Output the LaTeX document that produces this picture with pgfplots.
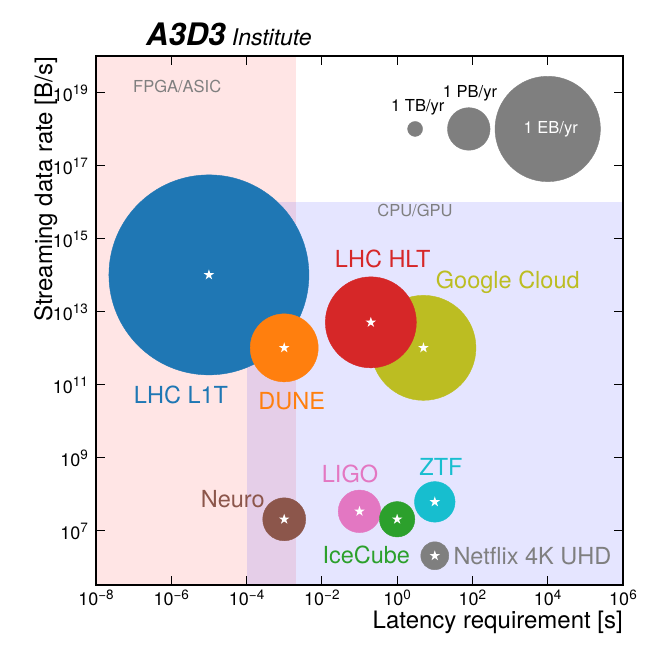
\documentclass[border=0pt]{standalone}
\usepackage{fontspec}
\setmainfont{TeX Gyre Heros}
\usepackage{pgfplots}
\usepackage{pgfplotstable}
\pgfplotsset{compat=1.18}

\definecolor{tabblue}{HTML}{1F77B4}
\definecolor{taborange}{HTML}{FF7F0E}
\definecolor{tabgreen}{HTML}{2CA02C}
\definecolor{tabred}{HTML}{D62728}
\definecolor{tabbrown}{HTML}{8C564B}
\definecolor{tabpink}{HTML}{E377C2}
\definecolor{tabgray}{HTML}{7F7F7F}
\definecolor{tabolive}{HTML}{BCBD22}
\definecolor{tabcyan}{HTML}{17BECF}

% filled five-pointed star
\pgfdeclareplotmark{fstar}{%
  \pgfpathmoveto{\pgfpointpolar{90}{\pgfplotmarksize}}%
  \pgfpathlineto{\pgfpointpolar{126}{0.382\pgfplotmarksize}}%
  \pgfpathlineto{\pgfpointpolar{162}{\pgfplotmarksize}}%
  \pgfpathlineto{\pgfpointpolar{198}{0.382\pgfplotmarksize}}%
  \pgfpathlineto{\pgfpointpolar{234}{\pgfplotmarksize}}%
  \pgfpathlineto{\pgfpointpolar{270}{0.382\pgfplotmarksize}}%
  \pgfpathlineto{\pgfpointpolar{306}{\pgfplotmarksize}}%
  \pgfpathlineto{\pgfpointpolar{342}{0.382\pgfplotmarksize}}%
  \pgfpathlineto{\pgfpointpolar{18}{\pgfplotmarksize}}%
  \pgfpathlineto{\pgfpointpolar{54}{0.382\pgfplotmarksize}}%
  \pgfpathclose
  \pgfusepathqfill
}

\newcommand{\tl}[1]{10\raisebox{6.5pt}{\fontsize{13.5}{13.5}\selectfont #1}}

% latency [s], rate [B/s], radius [pt]
\pgfplotstableread{
x     y      r     name
1e-5  1e14   100   l1t
1e-3  1e12   34    dune
5     1e12   52.5  google
0.2   5e12   45.5  hlt
1e-3  2e7    21.5  neuro
0.1   3.3e7  21.3  ligo
1     2e7    17.7  icecube
10    6e7    20.3  ztf
10    2e6    14    netflix
3     1e18   7.5   tb
80    1e18   21.3  pb
1e4   1e18   52.7  eb
}\bubbles

\pgfplotstableread{
x     y
1e-5  1e14
1e-3  1e12
5     1e12
0.2   5e12
1e-3  2e7
0.1   3.3e7
1     2e7
10    6e7
10    2e6
}\stars

\begin{document}
\begin{tikzpicture}
\path (0,0) rectangle (664pt,664pt);
\begin{axis}[
    at={(96pt,79pt)}, anchor=south west,
    scale only axis, width=527pt, height=529pt,
    xmode=log, ymode=log,
    xmin=1e-8, xmax=1e6, ymin=3.16e5, ymax=1e20,
    xtick={1e-8,1e-6,1e-4,1e-2,1,1e2,1e4,1e6},
    xticklabels={\tl{−8},\tl{−6},\tl{−4},\tl{−2},\tl{0},\tl{2},\tl{4},\tl{6}},
    ytick={1e7,1e9,1e11,1e13,1e15,1e17,1e19},
    yticklabels={\tl{7},\tl{9},\tl{11},\tl{13},\tl{15},\tl{17},\tl{19}},
    xminorticks=false, yminorticks=false,
    tick align=inside, tick pos=both,
    major tick length=9pt,
    tick style={line width=1pt, black},
    axis line style={line width=1.5pt},
    axis on top,
    xticklabel style={font=\fontsize{18}{18}\selectfont, anchor=base, inner sep=0pt, yshift=-20.7pt},
    yticklabel style={font=\fontsize{18}{18}\selectfont, anchor=east, inner sep=0pt, xshift=-8pt, yshift=-1pt},
]
% FPGA/ASIC and CPU/GPU regions
\addplot[draw=none, fill=red, fill opacity=0.1] coordinates {(1e-8,3.16e5) (2e-3,3.16e5) (2e-3,1e20) (1e-8,1e20)} -- cycle;
\addplot[draw=none, fill=blue, fill opacity=0.1] coordinates {(1e-4,3.16e5) (1e6,3.16e5) (1e6,1e16) (1e-4,1e16)} -- cycle;

\addplot[scatter, only marks, mark=*, point meta=explicit symbolic,
    scatter/classes={
        l1t={tabblue}, dune={taborange}, google={tabolive}, hlt={tabred},
        neuro={tabbrown}, ligo={tabpink}, icecube={tabgreen}, ztf={tabcyan},
        netflix={tabgray}, tb={tabgray}, pb={tabgray}, eb={tabgray}},
    visualization depends on={\thisrow{r}\as\rad},
    scatter/@pre marker code/.append style={/tikz/mark size=\rad}]
    table[x=x, y=y, meta=name]{\bubbles};

\addplot[only marks, mark=fstar, mark size=5.5pt, white] table[x=x, y=y]{\stars};
\end{axis}

\tikzset{big/.style={font=\fontsize{23.5}{23.5}\selectfont, inner sep=0pt, anchor=base},
         small/.style={font=\fontsize{16.5}{16.5}\selectfont, inner sep=0pt, anchor=base}}

\node[anchor=base west, inner sep=0pt] at (146pt,618pt) {\fontsize{31}{31}\selectfont\bfseries\itshape A3D3};
\node[anchor=base west, inner sep=0pt] at (231.7pt,618pt) {\fontsize{23}{23}\selectfont\itshape Institute};
\node[anchor=base east, inner sep=0pt] at (623pt,35pt) {\fontsize{24}{24}\selectfont Latency requirement [s]};
\node[anchor=base east, rotate=90, inner sep=0pt] at (52pt,607pt) {\fontsize{24}{24}\selectfont Streaming data rate [B/s]};

\node[big, text=tabblue] at (181pt,260.7pt) {LHC L1T};
\node[big, text=taborange] at (291.7pt,254.7pt) {DUNE};
\node[big, text=tabred] at (382.7pt,396.7pt) {LHC HLT};
\node[big, text=tabolive] at (507.8pt,375.7pt) {Google Cloud};
\node[big, text=tabbrown] at (232.8pt,156.7pt) {Neuro};
\node[big, text=tabpink] at (350pt,181.3pt) {LIGO};
\node[big, text=tabcyan] at (441pt,188pt) {ZTF};
\node[big, text=tabgreen] at (366.3pt,100.7pt) {IceCube};
\node[big, text=tabgray, anchor=base west] at (453.3pt,99pt) {Netflix 4K UHD};

\node[small, text=tabgray] at (177.2pt,571.7pt) {FPGA/ASIC};
\node[small, text=tabgray] at (415pt,447.3pt) {CPU/GPU};
\node[small] at (417.8pt,552.3pt) {1 TB/yr};
\node[small] at (470pt,566.7pt) {1 PB/yr};
\node[small, text=white] at (550.7pt,530pt) {1 EB/yr};
\end{tikzpicture}
\end{document}
